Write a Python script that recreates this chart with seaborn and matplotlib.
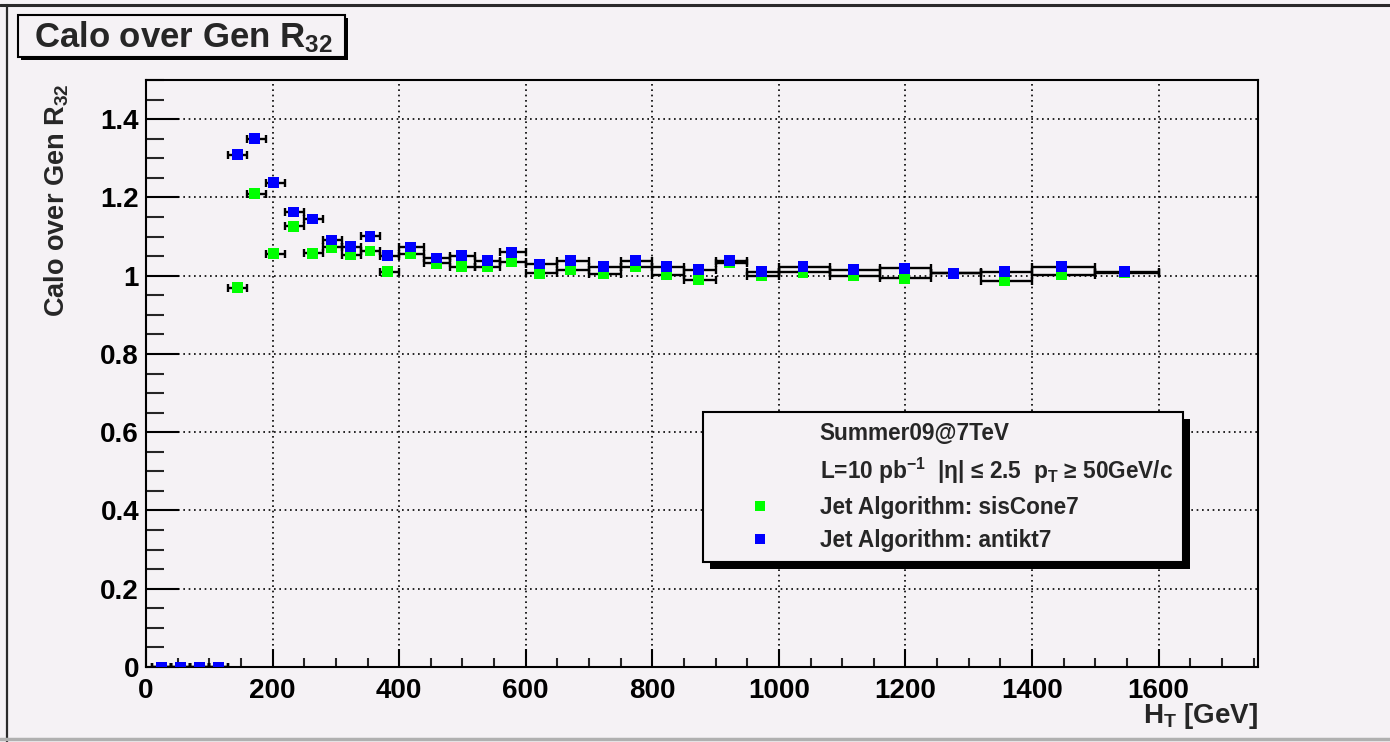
import numpy as np
import pandas as pd
import matplotlib
matplotlib.use("Agg")
import matplotlib.pyplot as plt
import seaborn as sns
from matplotlib.lines import Line2D
from matplotlib.patches import Rectangle
import matplotlib.patheffects as pe
from matplotlib.ticker import MultipleLocator, FuncFormatter

# ---------------- data ----------------
ht_centers = [25, 55, 85, 115, 145, 172, 202, 233, 263, 293, 323, 354, 382, 418,
              459, 498, 539, 578, 622, 671, 723, 773, 823, 873, 922, 972, 1038,
              1118, 1199, 1276, 1356, 1447, 1546]
ht_edges = [10, 40, 70, 100, 130, 160, 190, 220, 250, 280, 310, 340, 370, 400,
            440, 480, 520, 560, 600, 650, 700, 750, 800, 850, 900, 950, 1000,
            1080, 1160, 1240, 1320, 1400, 1500, 1600]
r32_siscone7 = [0, 0, 0, 0, 0.969, 1.209, 1.056, 1.126, 1.057, 1.072, 1.053, 1.063,
                1.010, 1.056, 1.032, 1.023, 1.023, 1.036, 1.006, 1.015, 1.004, 1.023,
                1.002, 0.989, 1.033, 1.000, 1.009, 1.000, 0.993, 1.006, 0.987, 1.002,
                1.008]
r32_antikt7 = [0, 0, 0, 0, 1.309, 1.350, 1.238, 1.163, 1.145, 1.091, 1.074, 1.101,
               1.051, 1.073, 1.045, 1.051, 1.038, 1.060, 1.030, 1.038, 1.023, 1.038,
               1.023, 1.015, 1.038, 1.010, 1.023, 1.015, 1.019, 1.006, 1.010, 1.023,
               1.010]
series_names = ["Jet Algorithm: sisCone7", "Jet Algorithm: antikt7"]
series_colors = ["#00ff00", "#0000ff"]
x_ticks = [0, 200, 400, 600, 800, 1000, 1200, 1400, 1600]
y_ticks = [0, 0.2, 0.4, 0.6, 0.8, 1.0, 1.2, 1.4]
title_text = "Calo over Gen R$_{32}$"
xlabel_text = "H$_{T}$ [GeV]"
legend_head = ["Summer09@7TeV",
               "L=10 pb$^{-1}$  |\u03b7| \u2264 2.5  p$_{T}$ \u2265 50GeV/c"]

# ---------------- style ----------------
BG = "#f5f2f5"
sns.set_theme(style="ticks")
plt.rcParams["font.family"] = ["Liberation Sans", "DejaVu Sans"]
plt.rcParams["font.weight"] = "bold"
plt.rcParams["mathtext.fontset"] = "custom"
plt.rcParams["mathtext.rm"] = "Liberation Sans:bold"
plt.rcParams["mathtext.bf"] = "Liberation Sans:bold"
plt.rcParams["mathtext.it"] = "Liberation Sans:bold"
plt.rcParams["mathtext.default"] = "rm"

W, H = 1390, 742
fig = plt.figure(figsize=(W / 100, H / 100), dpi=100, facecolor=BG)
ax = fig.add_axes([146 / W, 1 - 667 / H, (1258 - 146) / W, (667 - 80) / H])
ax.set_facecolor(BG)

x = np.array(ht_centers, dtype=float)
edges = np.array(ht_edges, dtype=float)
xerr = np.vstack([x - edges[:-1], edges[1:] - x])

df = pd.concat([
    pd.DataFrame({"HT": x, "R32": r32_siscone7, "algo": series_names[0]}),
    pd.DataFrame({"HT": x, "R32": r32_antikt7, "algo": series_names[1]}),
], ignore_index=True)

for yvals in (r32_siscone7, r32_antikt7):
    ax.errorbar(x, yvals, xerr=xerr, fmt="none", ecolor="black",
                elinewidth=1.7, capsize=2.8, capthick=1.7, zorder=2)

sns.scatterplot(data=df, x="HT", y="R32", hue="algo",
                palette=dict(zip(series_names, series_colors)),
                marker="s", s=60, linewidth=0, legend=False, zorder=3, ax=ax)

ax.set_xlim(0, 1757)
ax.set_ylim(0, 1.5)
ax.set_xlabel("")
ax.set_ylabel("")
ax.set_xticks(x_ticks)
ax.set_yticks(y_ticks)
ax.xaxis.set_minor_locator(MultipleLocator(50))
ax.yaxis.set_minor_locator(MultipleLocator(0.05))
ax.yaxis.set_major_formatter(FuncFormatter(lambda v, p: "%g" % round(v, 3)))
ax.xaxis.set_major_formatter(FuncFormatter(lambda v, p: "%g" % v))
ax.grid(True, which="major", color="black", linestyle=(0, (1, 2.2)), linewidth=1.2)
ax.set_axisbelow(True)

ax.tick_params(axis="y", which="major", direction="in", length=24, width=1.5,
               left=True, right=False, labelsize=20, pad=5, colors="black")
ax.tick_params(axis="y", which="minor", direction="in", length=13, width=1.5,
               left=True, right=False)
ax.tick_params(axis="x", which="major", direction="in", length=13, width=1.5,
               bottom=True, top=False, labelsize=20, pad=8, colors="black")
ax.tick_params(axis="x", which="minor", direction="in", length=6.5, width=1.5,
               bottom=True, top=False)
for lab in ax.get_xticklabels() + ax.get_yticklabels():
    lab.set_fontweight("bold")
for sp in ax.spines.values():
    sp.set_visible(True)
    sp.set_color("black")
    sp.set_linewidth(1.5)

# axis titles
fig.text(1258 / W, 1 - 716 / H, xlabel_text, ha="right", va="center",
         fontsize=20, fontweight="bold")
fig.text(57 / W, 1 - 200 / H, title_text, rotation=90, ha="center", va="center",
         fontsize=19.5, fontweight="bold")

# legend
handles = [Line2D([], [], linestyle="none", marker=None),
           Line2D([], [], linestyle="none", marker=None)]
for c in series_colors:
    handles.append(Line2D([], [], linestyle="none", marker="s", markersize=7.5,
                          markerfacecolor=c, markeredgewidth=0))
labels = legend_head + series_names
leg = ax.legend(handles, labels, loc="upper left",
                bbox_to_anchor=((703 - 146) / 1112, (667 - 412) / 587),
                borderaxespad=0, fontsize=16.3, frameon=True, fancybox=False,
                framealpha=1, facecolor=BG, edgecolor="black",
                handlelength=4.1, handletextpad=0.6, borderpad=0.45,
                labelspacing=0.45)
leg.get_frame().set_linewidth(1.5)
leg.get_frame().set_path_effects([pe.SimplePatchShadow(offset=(5, -5), shadow_rgbFace="black", alpha=1.0),
                                  pe.Normal()])
for t in leg.get_texts():
    t.set_fontweight("bold")

# title box
tbox = Rectangle((18 / W, 1 - 57 / H), (345 - 18) / W, (57 - 15) / H,
                 transform=fig.transFigure, facecolor=BG, edgecolor="black",
                 linewidth=1.5, zorder=5)
tbox.set_path_effects([pe.SimplePatchShadow(offset=(2, -2), shadow_rgbFace="black", alpha=1.0),
                       pe.Normal()])
fig.add_artist(tbox)
fig.text(34 / W, 1 - 47 / H, title_text, ha="left", va="baseline",
         fontsize=25, fontweight="bold", zorder=6)

# outer frame lines
fig.add_artist(Line2D([0, 1], [1 - 5 / H, 1 - 5 / H], transform=fig.transFigure,
                      color="#2a2a2a", linewidth=2.2))
fig.add_artist(Line2D([7 / W, 7 / W], [0, 1 - 5 / H], transform=fig.transFigure,
                      color="#2a2a2a", linewidth=1.6))
fig.add_artist(Line2D([0, 1], [1 - 739 / H, 1 - 739 / H], transform=fig.transFigure,
                      color="#b0b0b0", linewidth=2.5))

fig.savefig("out.png", dpi=100, facecolor=BG)
